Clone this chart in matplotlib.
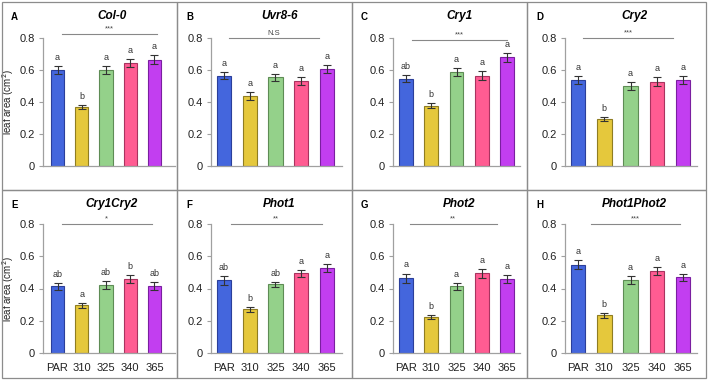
import matplotlib.pyplot as plt
from matplotlib.patches import Rectangle

plt.rcParams["font.family"] = ["Liberation Sans", "DejaVu Sans"]

W, H = 709, 382

categories = ["PAR", "310", "325", "340", "365"]
bar_colors = ["#4466dd", "#e5c83c", "#94d18a", "#ff5c92", "#c23ef0"]
edge_colors = ["#2b3f9a", "#8f7d22", "#5e8c55", "#a8345f", "#7a1fa0"]

panel_letters = ["A", "B", "C", "D", "E", "F", "G", "H"]
genotypes = ["Col-0", "Uvr8-6", "Cry1", "Cry2", "Cry1Cry2", "Phot1", "Phot2", "Phot1Phot2"]

means = [
    [0.600, 0.370, 0.600, 0.645, 0.665],
    [0.565, 0.440, 0.555, 0.532, 0.608],
    [0.545, 0.378, 0.585, 0.565, 0.680],
    [0.535, 0.295, 0.500, 0.528, 0.540],
    [0.415, 0.295, 0.420, 0.460, 0.415],
    [0.450, 0.272, 0.425, 0.495, 0.527],
    [0.465, 0.225, 0.415, 0.495, 0.460],
    [0.548, 0.235, 0.453, 0.510, 0.470],
]
errors = [
    [0.025, 0.012, 0.022, 0.025, 0.028],
    [0.020, 0.025, 0.022, 0.025, 0.025],
    [0.022, 0.015, 0.025, 0.030, 0.028],
    [0.025, 0.012, 0.022, 0.028, 0.025],
    [0.022, 0.015, 0.025, 0.025, 0.025],
    [0.028, 0.015, 0.018, 0.022, 0.027],
    [0.028, 0.012, 0.022, 0.028, 0.025],
    [0.028, 0.015, 0.027, 0.025, 0.022],
]
letters = [
    ["a", "b", "a", "a", "a"],
    ["a", "a", "a", "a", "a"],
    ["ab", "b", "a", "a", "a"],
    ["a", "b", "a", "a", "a"],
    ["ab", "a", "ab", "b", "ab"],
    ["ab", "b", "ab", "a", "a"],
    ["a", "b", "a", "a", "a"],
    ["a", "b", "a", "a", "a"],
]
significance = ["***", "N.S", "***", "***", "*", "**", "**", "***"]
sig_span = [(0.2, 4.1), (0.2, 3.7), (0.25, 4.0), (0.2, 3.6),
            (0.17, 3.9), (0.27, 3.8), (0.15, 3.6), (0.5, 3.9)]
sig_level = [0.825, 0.80, 0.79, 0.80, 0.80, 0.80, 0.80, 0.80]

# layout in pixels
col_left = [43, 211, 393, 565]
col_right = [175, 342, 520, 697]
col_xlim = [(-0.6, 4.85), (-0.5, 4.58), (-0.5, 4.5), (-0.5, 4.53)]
row_zero = [166, 353]
row_top = [38, 224]
box_x = [2, 177, 352, 527, 706]
box_y = [2, 190, 378]

fig = plt.figure(figsize=(W / 100, H / 100), dpi=100)

# panel frames
for r in range(2):
    for c in range(4):
        fig.add_artist(Rectangle(
            (box_x[c] / W, 1 - box_y[r + 1] / H),
            (box_x[c + 1] - box_x[c]) / W,
            (box_y[r + 1] - box_y[r]) / H,
            transform=fig.transFigure, fill=False,
            edgecolor="#8c8c8c", linewidth=0.9,
        ))

for i in range(8):
    r, c = divmod(i, 4)
    left = col_left[c] / W
    width = (col_right[c] - col_left[c]) / W
    bottom = 1 - row_zero[r] / H
    height = (row_zero[r] - row_top[r]) / H
    ax = fig.add_axes([left, bottom, width, height])

    x = range(len(categories))
    ax.bar(x, means[i], width=0.55, color=bar_colors,
           edgecolor=edge_colors, linewidth=0.8, zorder=2)
    ax.errorbar(x, means[i], yerr=errors[i], fmt="none", ecolor="#333333",
                elinewidth=0.8, capsize=3, capthick=0.8, zorder=3)

    for j, lab in enumerate(letters[i]):
        ax.text(j, means[i][j] + errors[i][j] + 0.025, lab, ha="center",
                va="bottom", fontsize=6.5, color="#333333", clip_on=False)

    x0, x1 = sig_span[i]
    ax.plot([x0, x1], [sig_level[i], sig_level[i]], color="#888888",
            linewidth=0.8, clip_on=False)
    ax.text((x0 + x1) / 2, sig_level[i] + 0.008, significance[i],
            ha="center", va="bottom", fontsize=5.5, color="#444444",
            clip_on=False)

    ax.set_xlim(*col_xlim[c])
    ax.set_ylim(0, 0.8)
    ax.set_yticks([0, 0.2, 0.4, 0.6, 0.8])
    ax.set_yticklabels(["0", "0.2", "0.4", "0.6", "0.8"])
    for side in ["top", "right"]:
        ax.spines[side].set_visible(False)
    for side in ["left", "bottom"]:
        ax.spines[side].set_color("#a0a0a0")
        ax.spines[side].set_linewidth(0.9)
    ax.tick_params(axis="y", length=3, width=0.8, color="#a0a0a0",
                   labelsize=8, labelcolor="#222222", pad=3)
    if r == 1:
        ax.set_xticks(list(x))
        ax.set_xticklabels(categories)
        ax.tick_params(axis="x", length=0, labelsize=8,
                       labelcolor="#222222", pad=7)
    else:
        ax.set_xticks([])
    if c == 0:
        ax.set_ylabel("leaf area (cm$^2$)", fontsize=7, color="#222222",
                      va="center")
        ax.yaxis.set_label_coords(-0.265, 0.5)

    # panel letter and title
    fig.text((box_x[c] + 9) / W, 1 - (box_y[r] + 15) / H, panel_letters[i],
             fontsize=7, fontweight="bold", ha="left", va="center")
    fig.text((col_left[c] + col_right[c]) / 2 / W + 3 / W,
             1 - (box_y[r] + 14) / H, genotypes[i], fontsize=8.5,
             fontweight="bold", fontstyle="italic", ha="center", va="center")

fig.savefig("out.png", dpi=100)
